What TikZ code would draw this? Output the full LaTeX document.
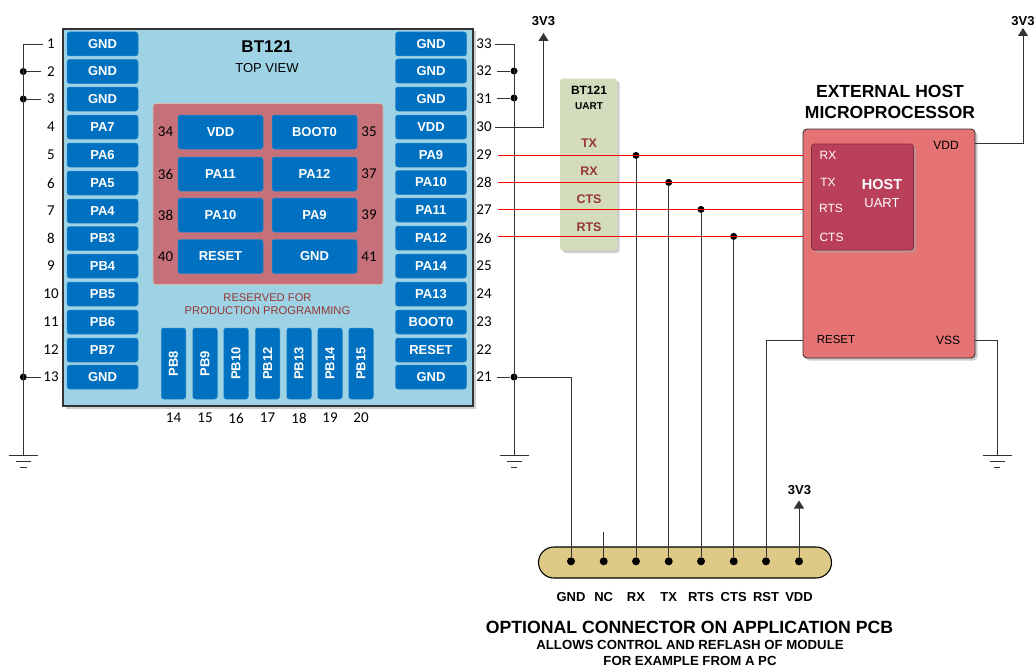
\documentclass[tikz,border=0pt]{standalone}
\usepackage{fontspec}
\setmainfont{Liberation Sans}
\newfontfamily\numfont{Carlito}
\usetikzlibrary{arrows.meta}
\definecolor{pinblue}{HTML}{0070C0}
\definecolor{modblue}{HTML}{9ED2E5}
\definecolor{resred}{HTML}{C6717A}
\definecolor{uartgreen}{HTML}{D3DCBC}
\definecolor{labred}{HTML}{953735}
\definecolor{hostred}{HTML}{E57373}
\definecolor{innerred}{HTML}{BA3F59}
\definecolor{conntan}{HTML}{DFC987}
\definecolor{wirered}{HTML}{FF0000}
\definecolor{wiregray}{HTML}{333333}
\newcommand{\fs}[1]{\fontsize{#1}{#1}\selectfont}
\tikzset{
  pinbase/.style={fill=pinblue,draw=pinblue!75!modblue,line width=.5pt,rounded corners=2.5pt,inner sep=0pt,text=white,font=\fs{13}\bfseries},
  sidepin/.style={pinbase,minimum width=71pt,minimum height=24pt},
  padpin/.style={pinbase,minimum width=85pt,minimum height=34pt},
  botpin/.style={pinbase,minimum width=24.5pt,minimum height=71pt},
  num/.style={inner sep=0pt,font=\fs{15}\numfont,text=black},
  wire/.style={draw=wiregray,line width=.9pt},
  redwire/.style={draw=wirered,line width=1.4pt},
  railtip/.style={wire,-{Triangle[length=8pt,width=10pt]}},
  junct/.style={circle,fill=black,inner sep=0pt,minimum size=7pt},
  connpin/.style={circle,fill=black,inner sep=0pt,minimum size=8pt},
  boxlabel/.style={inner sep=0pt,font=\fs{13}\bfseries,text=black},
  shadowed/.style={preaction={draw=none,fill=black!35,opacity=.55,transform canvas={xshift=2.5pt,yshift=-2.5pt}}},
  gndbar/.style={draw=wiregray,line width=.9pt},
}
\begin{document}
\begin{tikzpicture}[x=1pt,y=-1pt]
\useasboundingbox (0,0) rectangle (1035,669);
% module
\node[shadowed,draw=wiregray,line width=1.2pt,fill=modblue,minimum width=410pt,minimum height=377pt,inner sep=0pt] (module) at (268,217.5) {};
\node[inner sep=0pt,font=\fs{17}\bfseries] (bt) at (267,47) {BT121};
\node[inner sep=0pt,font=\fs{13}] (top) at (267,68.5) {TOP VIEW};
\node[draw=uartgreen!70!resred,line width=.6pt,fill=resred,rounded corners=3pt,minimum width=230pt,minimum height=181pt,inner sep=0pt] (reserved) at (268,194) {};
\node[align=center,inner sep=0pt,text=labred,font=\fs{11.2}] (restext) at (267.5,304) {RESERVED FOR\\[1.8pt]PRODUCTION PROGRAMMING};
% left pins
\foreach \i/\t/\y in {1/GND/44,2/GND/71.5,3/GND/99,4/PA7/127,5/PA6/155,6/PA5/183,7/PA4/211,8/PB3/238.5,9/PB4/266,10/PB5/294,11/PB6/322,12/PB7/350,13/GND/377}{
  \node[sidepin] (L\i) at (102.5,\y) {\t};
  \node[num] (N\i) at (51,\y) {\i};
}
% right pins
\foreach \i/\t/\y in {33/GND/44,32/GND/71,31/GND/99,30/VDD/127,29/PA9/155,28/PA10/182.5,27/PA11/210,26/PA12/238,25/PA14/266,24/PA13/294,23/BOOT0/322,22/RESET/350,21/GND/377}{
  \node[sidepin] (R\i) at (431,\y) {\t};
  \node[num] (N\i) at (484,\y) {\i};
}
% centre pads
\foreach \i/\t/\x/\y/\nx in {34/VDD/220.5/132/165.5,35/BOOT0/314.5/132/369,36/PA11/220.5/174/165.5,37/PA12/314.5/174/369,38/PA10/220.5/215/165.5,39/PA9/314.5/215/369,40/RESET/220.5/256.5/165.5,41/GND/314.5/256.5/369}{
  \node[padpin] (P\i) at (\x,\y) {\t};
  \node[num] (N\i) at (\nx,\y) {\i};
}
% bottom pins
\foreach \i/\t/\x in {14/PB8/173.5,15/PB9/205,16/PB10/236,17/PB12/267.5,18/PB13/299,19/PB14/330,20/PB15/361}{
  \node[botpin] (B\i) at (\x,363.5) {\rotatebox{90}{\t}};
  \node[num] (N\i) at (\x,418) {\i};
}
% UART box
\node[shadowed,fill=uartgreen,rounded corners=3pt,minimum width=57pt,minimum height=172pt,inner sep=0pt] (uart) at (588.5,164.5) {};
\node[inner sep=0pt,font=\fs{12}\bfseries] (u1) at (589,90.5) {BT121};
\node[inner sep=0pt,font=\fs{10}\bfseries] (u2) at (589,106) {UART};
\foreach \n/\t/\y in {utx/TX/143,urx/RX/171,ucts/CTS/199,urts/RTS/227}{
  \node[inner sep=0pt,text=labred,font=\fs{12.5}\bfseries] (\n) at (589,\y) {\t};
}
% host
\node[shadowed,draw=wiregray,line width=.9pt,fill=hostred,rounded corners=4pt,minimum width=172pt,minimum height=229pt,inner sep=0pt] (host) at (889,243.5) {};
\node[shadowed,draw=innerred!70!black,line width=.7pt,fill=innerred,rounded corners=3pt,minimum width=102pt,minimum height=106pt,inner sep=0pt] (inner) at (862.5,197) {};
\node[align=center,inner sep=0pt,font=\fs{17.5}\bfseries] (hosttitle) at (890,102) {EXTERNAL HOST\\[3.5pt]MICROPROCESSOR};
\foreach \n/\t/\x/\y in {hrx/RX/828/155.5,htx/TX/828/182,hrts/RTS/831/208,hcts/CTS/831.5/237}{
  \node[inner sep=0pt,text=white,font=\fs{12}] (\n) at (\x,\y) {\t};
}
\node[inner sep=0pt,text=white,font=\fs{14.5}\bfseries] (hhost) at (882,184.5) {HOST};
\node[inner sep=0pt,text=white,font=\fs{13}] (huart) at (882,203) {UART};
\node[inner sep=0pt,font=\fs{12}] (hvdd) at (946,145) {VDD};
\node[inner sep=0pt,font=\fs{11.5}] (hreset) at (836,340) {RESET};
\node[inner sep=0pt,font=\fs{12}] (hvss) at (948,340) {VSS};
% connector
\node[draw=black,line width=1.1pt,fill=conntan,rounded corners=15.5pt,minimum width=293pt,minimum height=31pt,inner sep=0pt] (conn) at (685,562.5) {};
\foreach \n/\t/\x in {gnd/GND/571,nc/NC/603.7,rx/RX/636,tx/TX/668.7,rts/RTS/701,cts/CTS/733.7,rst/RST/766,vdd/VDD/799}{
  \node[connpin] (c\n) at (\x,561.3) {};
  \node[boxlabel] (l\n) at (\x,597) {\t};
}
\node[inner sep=0pt,font=\fs{17.7}\bfseries] (opt1) at (689.5,627) {OPTIONAL CONNECTOR ON APPLICATION PCB};
\node[inner sep=0pt,font=\fs{13.2}\bfseries] (opt2) at (690,645) {ALLOWS CONTROL AND REFLASH OF MODULE};
\node[inner sep=0pt,font=\fs{13.2}\bfseries] (opt3) at (690,661) {FOR EXAMPLE FROM A PC};
% rail labels
\node[boxlabel] (v1) at (543.5,21) {3V3};
\node[boxlabel] (v2) at (1023,21) {3V3};
\node[boxlabel] (v3) at (799.5,490) {3V3};
% named coordinates
\coordinate (s1) at (43,44);
\coordinate (s2) at (41,71.5);
\coordinate (s3) at (41,99);
\coordinate (s13) at (41,377);
\coordinate (bl) at (23.3,44);
\coordinate (gl) at (23.3,455);
\node[junct] (jl2) at (23.3,71.5) {};
\node[junct] (jl3) at (23.3,99) {};
\node[junct] (jl13) at (23.3,377) {};
\coordinate (s33) at (495,44);
\coordinate (s32) at (497,71);
\coordinate (s31) at (497,98);
\coordinate (s30) at (495,127);
\coordinate (s21) at (497,377);
\coordinate (br) at (514,44);
\coordinate (gr) at (514,455);
\node[junct] (jr32) at (514,71) {};
\node[junct] (jr31) at (514,98) {};
\node[junct] (jr21) at (514,377) {};
\coordinate (a1) at (543.5,33);
\coordinate (a2) at (1023,28);
\coordinate (a3) at (799,500.5);
\coordinate (s29) at (498,155.4);
\coordinate (s28) at (498,182.4);
\coordinate (s27) at (498,209.4);
\coordinate (s26) at (498,236.4);
\node[junct] (jrx) at (636,155.4) {};
\node[junct] (jtx) at (668.7,182.4) {};
\node[junct] (jrts) at (701,209.4) {};
\node[junct] (jcts) at (733.7,236.4) {};
\coordinate (hgnd) at (997,455);
\coordinate (ncend) at (603.7,531.5);
\coordinate (hv) at (975,143);
\coordinate (hs) at (975,340);
% left bus
\draw[wire] (s1) -- (bl) -- (gl);
\draw[wire] (s2) -- (jl2);
\draw[wire] (s3) -- (jl3);
\draw[wire] (s13) -- (jl13);
% right bus
\draw[wire] (s33) -- (br) -- (gr);
\draw[wire] (s32) -- (jr32);
\draw[wire] (s31) -- (jr31);
\draw[wire] (s21) -- (jr21) -| (cgnd);
\draw[railtip] (s30) -| (a1);
% UART signals
\draw[redwire] (s29) -- (s29 -| host.west);
\draw[redwire] (s28) -- (s28 -| host.west);
\draw[redwire] (s27) -- (s27 -| host.west);
\draw[redwire] (s26) -- (s26 -| host.west);
\draw[wire] (jrx) -- (crx);
\draw[wire] (jtx) -- (ctx);
\draw[wire] (jrts) -- (crts);
\draw[wire] (jcts) -- (ccts);
\draw[wire] (ncend) -- (cnc);
\draw[wire] (crst) |- (host.west |- hreset);
\draw[railtip] (cvdd) -- (a3);
% host supply
\draw[railtip] (hv) -| (a2);
\draw[wire] (hs) -| (hgnd);
% grounds
\foreach \c in {gl,gr,hgnd}{
  \draw[gndbar] ([xshift=-14.5pt]\c) -- ([xshift=14.5pt]\c);
  \draw[gndbar] ([xshift=-7.5pt,yshift=-6.7pt]\c) -- ([xshift=7.5pt,yshift=-6.7pt]\c);
  \draw[gndbar] ([xshift=-3.4pt,yshift=-12.7pt]\c) -- ([xshift=3.4pt,yshift=-12.7pt]\c);
}
\end{tikzpicture}
\end{document}
